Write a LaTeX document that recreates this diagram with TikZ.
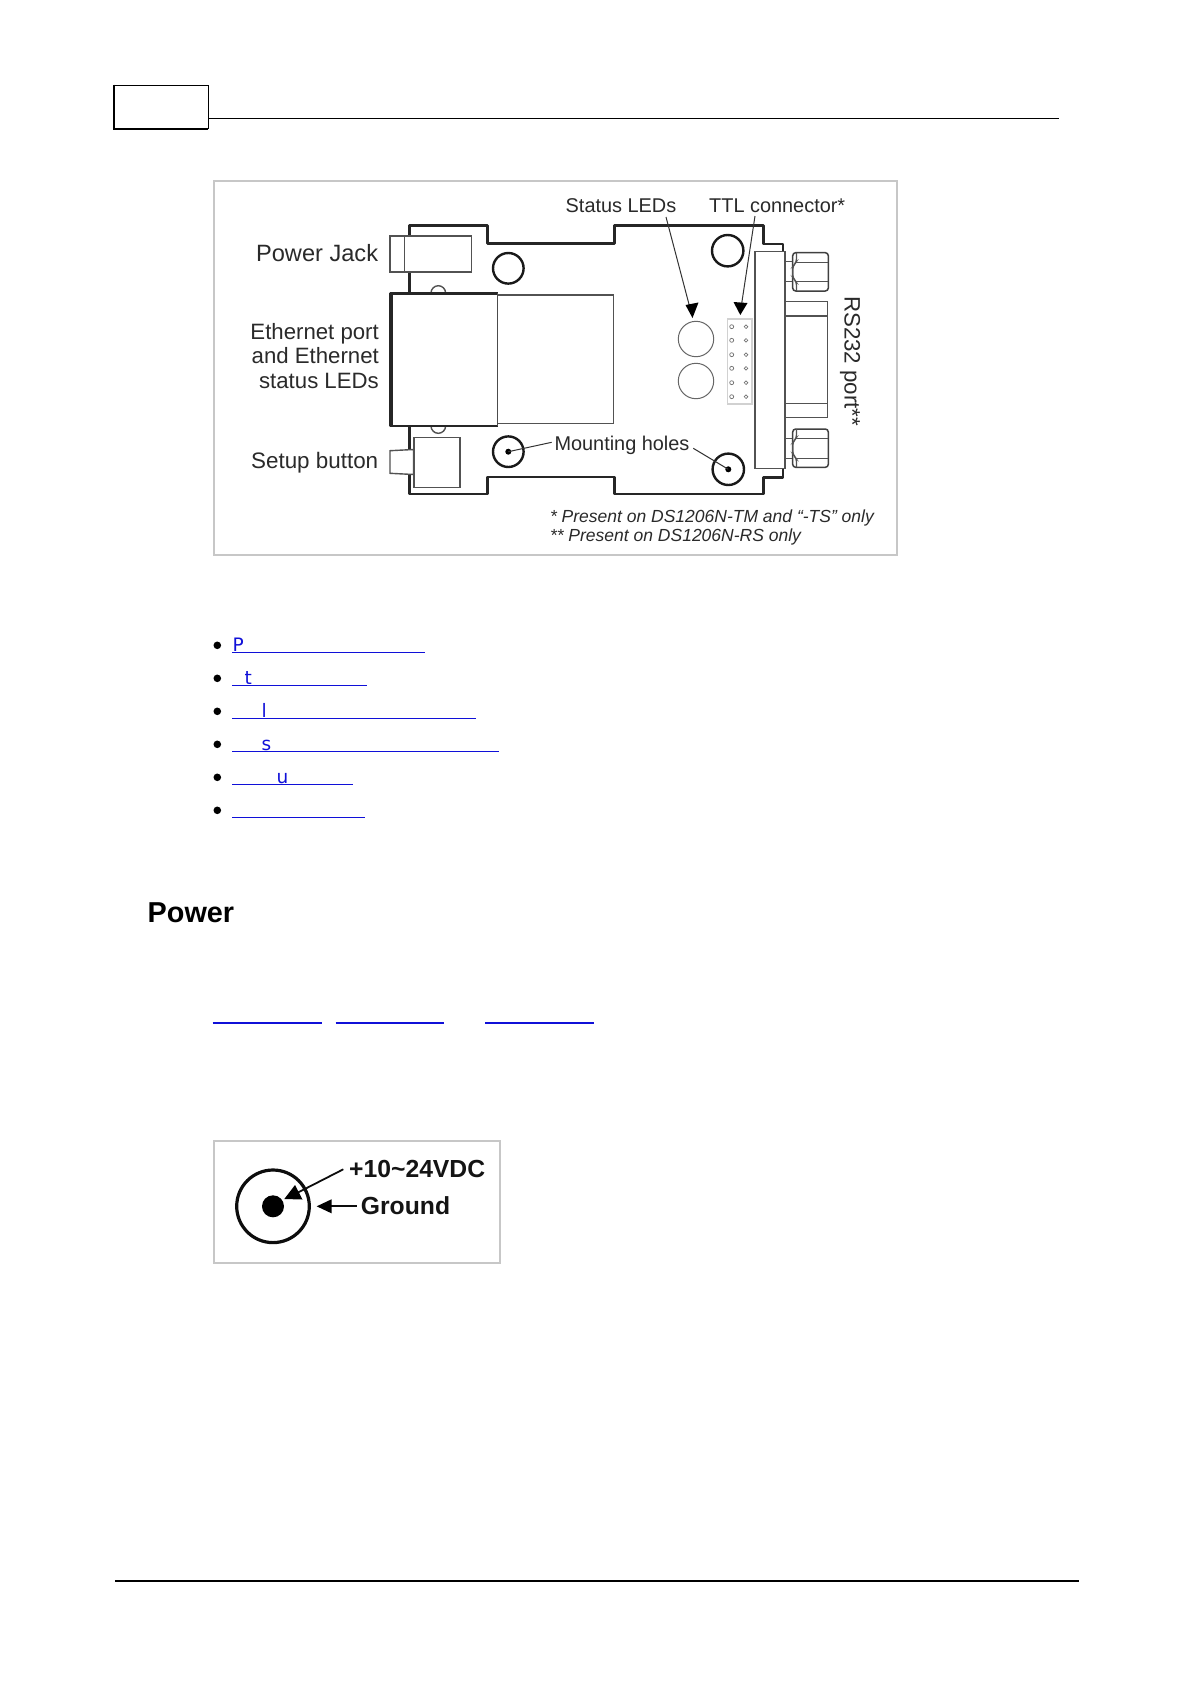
\documentclass[tikz,border=0pt]{standalone}
\usepackage{fontspec}
\setmainfont{Liberation Sans}
\newfontfamily\linkfont{DejaVu Sans}
\definecolor{linkblue}{HTML}{1010D8}
\definecolor{labelgray}{HTML}{2A2A2A}
\tikzset{
  x=1pt,y=-1pt,
  panel/.style={draw=black!22,line width=2.2pt,fill=white},
  board/.style={draw=black!85,line width=2.4pt,line join=round},
  thinpart/.style={draw=black!68,line width=1.4pt},
  nutpart/.style={draw=black!75,line width=1.5pt},
  midpart/.style={draw=black!70,line width=1.4pt},
  hole/.style={draw=black!90,line width=2.4pt},
  led/.style={draw=black!60,line width=1pt},
  leader/.style={draw=black!80,line width=1pt},
  lbl/.style={inner sep=0pt,text=labelgray,anchor=base east},
  lbll/.style={inner sep=0pt,text=labelgray,anchor=base west},
  linkline/.style={draw=linkblue,line width=1pt},
  linktext/.style={inner sep=0pt,anchor=base west,text=linkblue,font=\linkfont\fontsize{18.5}{20}\selectfont},
  bl/.style={fill=black,draw=none},
  pin/.style={draw=black!55,line width=.7pt},
}
\begin{document}
\begin{tikzpicture}
\useasboundingbox (0,0) rectangle (1190,1684);
\fill[white] (0,0) rectangle (1190,1684);
% header
\draw[line width=1pt] (114,85) -- (208,85) -- (208,129);
\draw[line width=2.2pt] (114,84.5) -- (114,129) -- (208,129);
\draw[line width=.9pt] (208,118.3) -- (1059.3,118.3);
% footer
\draw[line width=2pt] (115,1580.7) -- (1079,1580.7);
% top panel
\draw[panel] (214,181) rectangle (897,555);
% board outline
\draw[board] (409.3,293) -- (409.3,225.3) -- (487.3,225.3) -- (487.3,243.3) -- (614.3,243.3) -- (614.3,225.3) -- (763.3,225.3) -- (763.3,244) -- (782.7,244) -- (782.7,252);
\draw[board] (409.3,426) -- (409.3,494) -- (487.3,494) -- (487.3,476.7) -- (614.3,476.7) -- (614.3,494) -- (763.3,494) -- (763.3,477.3) -- (782.7,477.3) -- (782.7,468);
% power jack
\draw[thinpart,fill=white] (390,236) rectangle (471.7,272);
\draw[thinpart] (404.7,236) -- (404.7,272);
% bumps
\draw[thinpart] (431,293) arc[start angle=180,end angle=360,radius=7.3];
\draw[thinpart] (431,426) arc[start angle=180,end angle=0,radius=7.3];
% ethernet
\draw[thinpart] (497.7,295) rectangle (613.3,423.3);
\draw[draw=black!85,line width=2.8pt,line join=round] (497.7,293.3) -- (390.7,293.3) -- (390.7,426) -- (497.7,426);
\draw[draw=black!85,line width=1.5pt] (392,293.3) -- (392,426);
\draw[midpart] (497.7,293.3) -- (497.7,426);
% setup button
\draw[thinpart,fill=white] (390,450.7) -- (413.5,449.5) -- (413.5,474.5) -- (390,473.3) -- cycle;
\draw[thinpart,fill=white] (414,437.3) rectangle (460,487.3);
% holes
\draw[hole] (508.3,268.3) circle[radius=15.3];
\draw[hole] (727.7,250.7) circle[radius=15.7];
\draw[hole] (508.3,451.7) circle[radius=15.3];
\draw[hole] (728.3,469.3) circle[radius=15.7];
\fill[bl] (508.3,451.7) circle[radius=3];
\fill[bl] (728.3,469.3) circle[radius=3];
% leds
\draw[led] (696,339) circle[radius=17.7];
\draw[led] (696,381) circle[radius=17.7];
% ttl
\draw[draw=black!18,line width=1.6pt] (727.3,319) rectangle (751.7,404);
\foreach \py in {326.7,340.3,354.7,368.3,382.7,396.7}{
  \draw[pin] (731.7,\py) circle[radius=2];
  \draw[pin] (746,\py) circle[radius=1.8];
}
% connector
\draw[thinpart] (755,251.7) rectangle (785,468.3);
\draw[thinpart] (785,301.7) rectangle (827.3,417.3);
\draw[thinpart] (785,316) -- (827.3,316);
\draw[thinpart] (785,403.3) -- (827.3,403.3);
\draw[thinpart] (785,261.7) rectangle (792.7,281.7);
\draw[thinpart] (785,438.3) rectangle (792.7,458.3);
\draw[nutpart,rounded corners=3pt] (792.7,252.7) rectangle (828.3,291);
\draw[thinpart,rounded corners=3pt] (796.5,252.7) -- (796.5,262.3) -- (792.7,266) -- (792.7,278) -- (796.5,281.7) -- (796.5,291);
\draw[thinpart] (796,262.3) -- (828,262.3);
\draw[thinpart] (796,281.7) -- (828,281.7);
\draw[nutpart,rounded corners=3pt] (792.7,429) rectangle (828.3,467.3);
\draw[thinpart,rounded corners=3pt] (796.5,429) -- (796.5,438.3) -- (792.7,442) -- (792.7,454.5) -- (796.5,458.3) -- (796.5,467.3);
\draw[thinpart] (796,438.3) -- (828,438.3);
\draw[thinpart] (796,458.3) -- (828,458.3);
% leaders
\draw[leader] (666,217) -- (690.5,310);
\fill[black] (692.5,318) -- (685.5,305) -- (698.5,302.5) -- cycle;
\draw[leader] (755,216) -- (741,308);
\fill[black] (740.3,315) -- (733.5,302) -- (747.5,303) -- cycle;
\draw[leader] (508.3,451.7) -- (551.7,442.3);
\draw[leader] (693.3,448.3) -- (728.3,469.3);
% labels
\node[lbl,font=\fontsize{23.6}{26}\selectfont] (pj) at (378.3,261.7) {Power Jack};
\node[lbl,font=\fontsize{22.2}{24}\selectfont] (e1) at (379,339) {Ethernet port};
\node[lbl,font=\fontsize{22.2}{24}\selectfont] (e2) at (379,363.3) {and Ethernet};
\node[lbl,font=\fontsize{22.2}{24}\selectfont] (e3) at (379,388.3) {status LEDs};
\node[lbl,font=\fontsize{22.4}{24}\selectfont] (sb) at (378.4,468.3) {Setup button};
\node[lbll,font=\fontsize{19.9}{22}\selectfont] (sl) at (565.5,212.7) {Status LEDs};
\node[lbll,font=\fontsize{19.9}{22}\selectfont] (tc) at (709,212.7) {TTL connector*};
\node[lbll,font=\fontsize{19.9}{22}\selectfont] (mh) at (554.3,450) {Mounting holes};
\node[lbll,font=\fontsize{22.3}{24}\selectfont,rotate=-90] (rs) at (844.5,296) {RS232 port**};
\node[lbll,font=\itshape\fontsize{17.5}{20}\selectfont] (f1) at (549.8,522.3) {* Present on DS1206N-TM and “-TS” only};
\node[lbll,font=\itshape\fontsize{17.5}{20}\selectfont] (f2) at (549.8,541.5) {** Present on DS1206N-RS only};
% list
\foreach \by in {645.3,678.3,711.3,744.3,777.3,810.3}{\fill[bl] (217.3,\by) circle[radius=3.8];}
\draw[linkline] (232,652.3) -- (425,652.3);
\draw[linkline] (232,685.3) -- (366.7,685.3);
\draw[linkline] (232,718.3) -- (476,718.3);
\draw[linkline] (232,751.3) -- (498.7,751.3);
\draw[linkline] (232,784.3) -- (353,784.3);
\draw[linkline] (232,817.3) -- (365,817.3);
\node[linktext] (lp) at (232.5,651.2) {P};
\node[linktext] (lt) at (244.5,684.2) {t};
\node[linktext] (ll) at (261.5,717.2) {l};
\node[linktext] (ls) at (261.5,750.2) {s};
\node[linktext] (lu) at (276.5,783.2) {u};
% heading
\node[inner sep=0pt,anchor=base west,font=\bfseries\fontsize{28.8}{32}\selectfont] (pw) at (147.5,922.7) {Power};
\draw[linkline,line width=2pt] (212.7,1022.7) -- (321.7,1022.7);
\draw[linkline,line width=2pt] (335.7,1022.7) -- (444.3,1022.7);
\draw[linkline,line width=2pt] (485.3,1022.7) -- (594.3,1022.7);
% jack panel
\draw[panel] (214,1141) rectangle (500,1262.7);
\draw[line width=3.2pt,draw=black!95] (273,1206.3) circle[radius=36.3];
\fill[bl] (273,1206.3) circle[radius=11];
\draw[line width=1.8pt,draw=black!95] (343.3,1169.3) -- (295,1194);
\fill[black] (284.3,1199) -- (295,1185) -- (302.5,1199.5) -- cycle;
\draw[line width=1.8pt,draw=black!95] (356.7,1206.3) -- (326,1206.3);
\fill[black] (316.7,1206.3) -- (331.5,1199.3) -- (331.5,1213.3) -- cycle;
\node[lbll,text=black!92,font=\bfseries\fontsize{24.7}{28}\selectfont] (vd) at (349,1177.3) {+10\textasciitilde24VDC};
\node[lbll,text=black!92,font=\bfseries\fontsize{24.7}{28}\selectfont] (gd) at (360.7,1214.3) {Ground};
\end{tikzpicture}
\end{document}
